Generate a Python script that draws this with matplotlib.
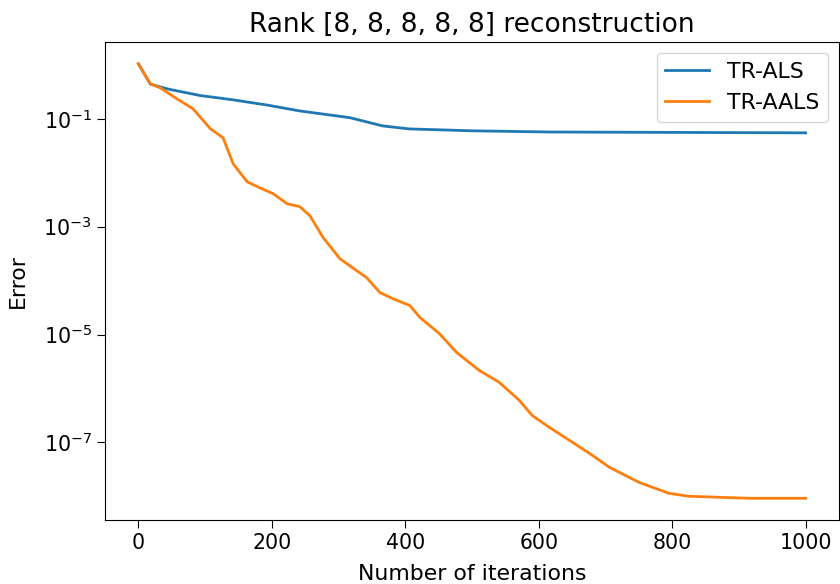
import numpy as np
import matplotlib
matplotlib.use("Agg")
import matplotlib.pyplot as plt

### Values (iteration, error) ###

# TR-ALS
als_iter = [0, 18, 43, 93, 142, 193, 242, 317, 366, 406, 500, 616, 800, 1000]
als_err = [1.05, 0.44, 0.36, 0.27, 0.225, 0.18, 0.14, 0.105, 0.074, 0.065,
           0.060, 0.057, 0.056, 0.055]

# TR-AALS
aals_iter = [0, 18, 33, 58, 82, 108, 127, 142, 163, 182, 202, 223, 242, 257,
             277, 302, 327, 342, 362, 381, 407, 422, 451, 477, 511, 541, 571,
             590, 616, 646, 676, 706, 750, 795, 825, 915, 1000]
aals_log = [0.02, -0.352, -0.426, -0.63, -0.815, -1.185, -1.352, -1.833,
            -2.167, -2.278, -2.389, -2.574, -2.63, -2.796, -3.204, -3.593,
            -3.815, -3.944, -4.222, -4.333, -4.463, -4.685, -4.981, -5.333,
            -5.667, -5.889, -6.222, -6.5, -6.722, -6.963, -7.204, -7.463,
            -7.741, -7.944, -8.0, -8.037, -8.037]
aals_err = [10 ** v for v in aals_log]

yticks = [1e-1, 1e-3, 1e-5, 1e-7]

plt.rcParams['font.size'] = 14.8

fig = plt.figure(figsize=(8.4, 5.84), dpi=100)
ax = fig.add_axes([0.125, 0.1096, 0.8738, 0.8184])

ax.plot(als_iter, als_err, lw=2, label='TR-ALS')
ax.plot(aals_iter, aals_err, lw=2, label='TR-AALS')
ax.set_yscale('log')
ax.set_yticks(yticks)
ax.minorticks_off()
ax.tick_params(length=6, labelsize=14.8)
ax.set_xlabel('Number of iterations', fontsize=15.8, labelpad=8)
ax.set_ylabel('Error', fontsize=15.8, labelpad=11)
ax.set_title('Rank [8, 8, 8, 8, 8] reconstruction', fontsize=19, pad=7)
ax.legend(loc='upper right', fontsize=15.8)

fig.savefig('out.png', dpi=100)
